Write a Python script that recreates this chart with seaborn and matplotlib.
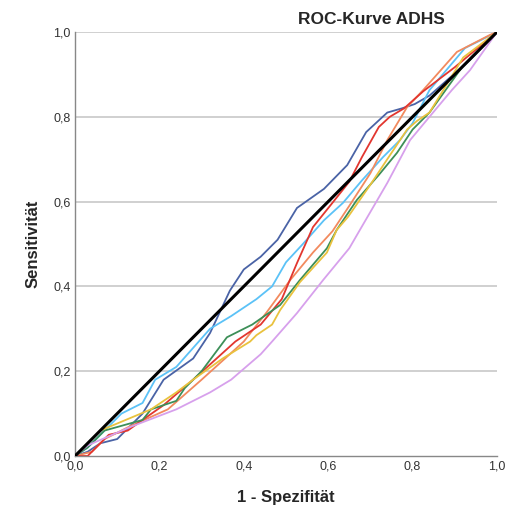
import matplotlib
matplotlib.use("Agg")
import matplotlib.pyplot as plt
import seaborn as sns
import pandas as pd

# ROC curves (1 - specificity, sensitivity) per predictor
dunkelblau_x = [0, 0.03, 0.06, 0.10, 0.16, 0.21, 0.28, 0.32, 0.367, 0.40, 0.44, 0.48, 0.526, 0.59, 0.645, 0.69, 0.74, 0.775, 0.805, 0.84, 0.936, 1]
dunkelblau_y = [0, 0.01, 0.03, 0.04, 0.10, 0.18, 0.23, 0.29, 0.39, 0.44, 0.47, 0.51, 0.585, 0.63, 0.686, 0.764, 0.81, 0.82, 0.83, 0.85, 0.934, 1]

hellblau_x = [0, 0.03, 0.07, 0.11, 0.16, 0.19, 0.24, 0.32, 0.37, 0.43, 0.467, 0.50, 0.54, 0.59, 0.635, 0.68, 0.73, 0.77, 0.80, 0.84, 0.924, 1]
hellblau_y = [0, 0.02, 0.06, 0.10, 0.125, 0.18, 0.21, 0.30, 0.33, 0.37, 0.40, 0.457, 0.50, 0.556, 0.597, 0.65, 0.705, 0.745, 0.785, 0.863, 0.962, 1]

orange_x = [0, 0.02, 0.04, 0.07, 0.13, 0.22, 0.30, 0.40, 0.455, 0.51, 0.564, 0.61, 0.65, 0.70, 0.74, 0.787, 0.825, 0.905, 0.983, 1]
orange_y = [0, 0.005, 0.01, 0.04, 0.07, 0.11, 0.18, 0.27, 0.34, 0.415, 0.48, 0.53, 0.59, 0.667, 0.745, 0.823, 0.863, 0.953, 0.993, 1]

rot_x = [0, 0.03, 0.05, 0.08, 0.125, 0.16, 0.21, 0.28, 0.38, 0.44, 0.49, 0.526, 0.564, 0.61, 0.65, 0.68, 0.72, 0.746, 0.78, 0.825, 0.90, 1]
rot_y = [0, 0.0, 0.02, 0.05, 0.06, 0.085, 0.12, 0.18, 0.27, 0.31, 0.37, 0.455, 0.54, 0.597, 0.647, 0.705, 0.776, 0.80, 0.82, 0.86, 0.917, 1]

gruen_x = [0, 0.03, 0.07, 0.16, 0.18, 0.24, 0.26, 0.30, 0.36, 0.42, 0.486, 0.533, 0.597, 0.62, 0.668, 0.72, 0.763, 0.80, 0.84, 0.917, 1]
gruen_y = [0, 0.02, 0.06, 0.085, 0.11, 0.13, 0.16, 0.20, 0.28, 0.31, 0.356, 0.415, 0.49, 0.533, 0.604, 0.663, 0.715, 0.77, 0.81, 0.917, 1]

gelb_x = [0, 0.03, 0.06, 0.12, 0.18, 0.24, 0.28, 0.35, 0.415, 0.43, 0.467, 0.486, 0.533, 0.597, 0.62, 0.647, 0.70, 0.74, 0.787, 0.81, 0.84, 0.92, 1]
gelb_y = [0, 0.03, 0.06, 0.085, 0.11, 0.15, 0.18, 0.23, 0.27, 0.285, 0.31, 0.344, 0.41, 0.48, 0.533, 0.564, 0.64, 0.70, 0.77, 0.79, 0.81, 0.94, 1]

violett_x = [0, 0.03, 0.135, 0.24, 0.32, 0.37, 0.44, 0.467, 0.526, 0.588, 0.65, 0.675, 0.74, 0.794, 0.84, 0.893, 0.936, 1]
violett_y = [0, 0.025, 0.07, 0.11, 0.15, 0.18, 0.24, 0.27, 0.337, 0.415, 0.49, 0.533, 0.644, 0.745, 0.80, 0.863, 0.91, 1]

referenz_x = [0, 1]
referenz_y = [0, 1]

kurven = [
    (dunkelblau_x, dunkelblau_y, "#4A63A6"),
    (hellblau_x, hellblau_y, "#5BC2F7"),
    (orange_x, orange_y, "#F28A5E"),
    (rot_x, rot_y, "#E2362F"),
    (gruen_x, gruen_y, "#3D8F58"),
    (gelb_x, gelb_y, "#E9C23E"),
    (violett_x, violett_y, "#D7A0EC"),
]

sns.set_theme(style="white")
plt.rcParams["font.family"] = ["Liberation Sans", "DejaVu Sans"]

fig = plt.figure(figsize=(5.09, 5.14), dpi=100)
ax = fig.add_axes([75 / 509, 1 - 456 / 514, 422 / 509, 424 / 514])

for gy in [0.2, 0.4, 0.6, 0.8, 1.0]:
    ax.axhline(gy, color="#C8C8C8", lw=1.2, zorder=0)

for xs, ys, col in kurven:
    df = pd.DataFrame({"x": xs, "y": ys})
    sns.lineplot(data=df, x="x", y="y", ax=ax, color=col, lw=1.3,
                 sort=False, estimator=None, zorder=2)

df_ref = pd.DataFrame({"x": referenz_x, "y": referenz_y})
sns.lineplot(data=df_ref, x="x", y="y", ax=ax, color="black", lw=2.2,
             sort=False, estimator=None, zorder=3)

ax.set_xlim(0, 1)
ax.set_ylim(0, 1)
ticks = [0, 0.2, 0.4, 0.6, 0.8, 1.0]
labels = ["0,0", "0,2", "0,4", "0,6", "0,8", "1,0"]
ax.set_xticks(ticks)
ax.set_xticklabels(labels)
ax.set_yticks(ticks)
ax.set_yticklabels(labels)
ax.tick_params(axis="both", labelsize=9, colors="#333333", length=0, pad=3)

for side in ["top", "right"]:
    ax.spines[side].set_visible(False)
for side in ["left", "bottom"]:
    ax.spines[side].set_color("#888888")
    ax.spines[side].set_linewidth(1.0)

ax.set_xlabel("1 - Spezifität", fontsize=12, fontweight="bold", labelpad=13)
ax.set_ylabel("Sensitivität", fontsize=12, fontweight="bold", labelpad=9)
fig.text(371 / 509, 1 - 19 / 514, "ROC-Kurve ADHS", ha="center", va="center",
         fontsize=12.5, fontweight="bold")

fig.savefig("out.png", dpi=100)
